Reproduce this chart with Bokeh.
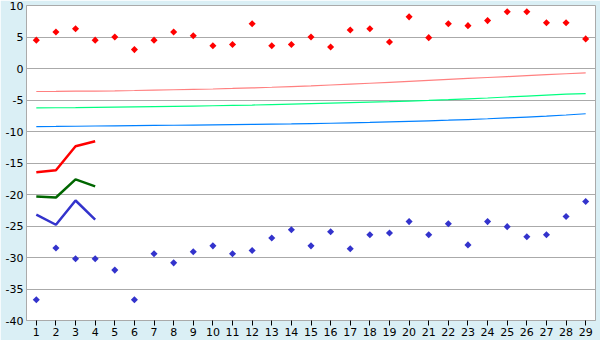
from bokeh.plotting import figure
from bokeh.models import FixedTicker, Range1d, PrintfTickFormatter
from bokeh.embed import file_html
from bokeh.resources import INLINE
import math

days = list(range(1, 30))

high = [4.5, 5.8, 6.3, 4.5, 5.0, 3.0, 4.5, 5.8, 5.2, 3.6,
        3.8, 7.1, 3.6, 3.8, 5.0, 3.4, 6.1, 6.3, 4.2, 8.2,
        4.9, 7.1, 6.8, 7.6, 9.0, 9.0, 7.25, 7.25, 4.7]
low = [-36.7, -28.5, -30.2, -30.2, -32.0, -36.7, -29.4, -30.85, -29.1, -28.15,
       -29.4, -28.9, -26.9, -25.6, -28.15, -25.9, -28.6, -26.4, -26.1, -24.3,
       -26.4, -24.65, -28.0, -24.3, -25.1, -26.7, -26.4, -23.5, -21.1]

norm_high = [-3.65, -3.63, -3.60, -3.58, -3.54, -3.49, -3.43, -3.37, -3.31, -3.25,
             -3.17, -3.08, -2.98, -2.87, -2.75, -2.62, -2.48, -2.34, -2.19, -2.04,
             -1.89, -1.74, -1.58, -1.43, -1.28, -1.13, -0.98, -0.83, -0.68]
norm_mean = [-6.24, -6.23, -6.21, -6.18, -6.14, -6.10, -6.05, -6.00, -5.96, -5.91,
             -5.86, -5.80, -5.73, -5.66, -5.59, -5.51, -5.43, -5.35, -5.27, -5.17,
             -5.07, -4.95, -4.82, -4.68, -4.52, -4.37, -4.22, -4.08, -3.98]
norm_low = [-9.22, -9.20, -9.17, -9.13, -9.10, -9.07, -9.04, -9.01, -8.98, -8.95,
            -8.92, -8.88, -8.84, -8.80, -8.75, -8.69, -8.63, -8.56, -8.48, -8.40,
            -8.31, -8.21, -8.10, -7.98, -7.85, -7.71, -7.56, -7.38, -7.18]

obs_days = [1, 2, 3, 4]
obs_high = [-16.45, -16.14, -12.33, -11.54]
obs_mean = [-20.3, -20.48, -17.6, -18.7]
obs_low = [-23.2, -24.8, -20.95, -24.0]

y_ticks = [-40, -35, -30, -25, -20, -15, -10, -5, 0, 5, 10]

FONT = "DejaVu Sans"
GRID = "#aaaaaa"

p = figure(width=600, height=340, output_backend="svg", toolbar_location=None,
           x_range=Range1d(0.5, 29.5), y_range=Range1d(-40, 10),
           min_border_left=26, min_border_right=5, min_border_top=5, min_border_bottom=20)
p.border_fill_color = "#daeff5"
p.background_fill_color = "white"
p.outline_line_color = GRID
p.xgrid.grid_line_color = None
p.ygrid.grid_line_color = GRID
p.ygrid.ticker = FixedTicker(ticks=y_ticks)

p.yaxis.ticker = FixedTicker(ticks=y_ticks)
p.yaxis.formatter = PrintfTickFormatter(format="%d")
p.yaxis.axis_line_color = GRID
p.yaxis.major_tick_line_color = None
p.yaxis.major_tick_in = 0
p.yaxis.major_tick_out = 0
p.yaxis.minor_tick_line_color = None
p.yaxis.minor_tick_in = 0
p.yaxis.minor_tick_out = 0
p.yaxis.major_label_standoff = 3
p.yaxis.major_label_text_font = FONT
p.yaxis.major_label_text_font_size = "11px"
p.yaxis.major_label_text_color = "black"

p.xaxis.ticker = FixedTicker(ticks=days)
p.xaxis.axis_line_color = GRID
p.xaxis.major_tick_line_color = "black"
p.xaxis.major_tick_in = 0
p.xaxis.major_tick_out = 5
p.xaxis.minor_tick_line_color = None
p.xaxis.major_label_standoff = 2
p.xaxis.major_label_text_font = FONT
p.xaxis.major_label_text_font_size = "11px"
p.xaxis.major_label_text_color = "black"

p.line(days, norm_high, line_color="#ff8080", line_width=1.2)
p.line(days, norm_mean, line_color="#00ff80", line_width=1.2)
p.line(days, norm_low, line_color="#0080ff", line_width=1.2)

p.line(obs_days, obs_high, line_color="#ff0000", line_width=2.5)
p.line(obs_days, obs_mean, line_color="#006600", line_width=2.5)
p.line(obs_days, obs_low, line_color="#3333cc", line_width=2.5)

p.scatter(days, high, marker="square", angle=math.pi / 4, size=5,
          fill_color="#ff0000", line_color=None)
p.scatter(days, low, marker="square", angle=math.pi / 4, size=5,
          fill_color="#3333cc", line_color=None)

open("out.html", "w").write(file_html(p, INLINE))
